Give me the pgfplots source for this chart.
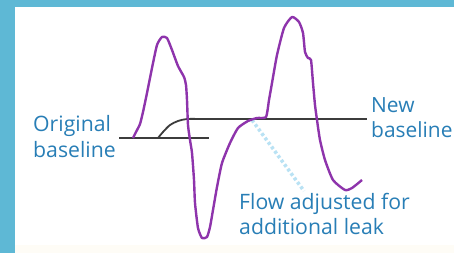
\documentclass[border=0pt]{standalone}
\usepackage{pgfplots}
\pgfplotsset{compat=1.18}
\usepackage{fontspec}
\setmainfont{Open Sans}
\definecolor{frameblue}{RGB}{94,184,213}
\definecolor{txtblue}{RGB}{40,126,182}
\definecolor{curve}{RGB}{142,52,172}
\definecolor{base}{RGB}{60,60,60}
\definecolor{leak}{RGB}{185,226,244}
\definecolor{cream}{RGB}{254,252,246}
\begin{document}
\begin{tikzpicture}
\begin{axis}[
  scale only axis, width=454bp, height=253bp,
  xmin=0, xmax=454, ymin=0, ymax=253, y dir=reverse,
  axis lines=none, clip=false,
]
\coordinate (sw) at (axis cs:0,253);
\coordinate (ne) at (axis cs:454,0);
\fill[frameblue] (axis cs:0,0) rectangle (axis cs:454,253);
\fill[white] (axis cs:15,7) rectangle (axis cs:454,253);
\fill[cream] (axis cs:15,245) rectangle (axis cs:454,253);
% original baseline
\addplot[base, line width=1.8bp] coordinates {(119,138) (209,138)};
% new baseline
\addplot[base, line width=1.8bp, smooth, tension=0.5] coordinates {(158,138) (163,132) (170,125) (178,121) (187,119) (200,119)};
\addplot[base, line width=1.8bp] coordinates {(198,119) (367,119)};
% leak line
\addplot[leak, line width=3.5bp, dash pattern=on 3bp off 2.5bp] coordinates {(252,120) (304,191)};
% flow curve
\addplot[curve, line width=2.4bp, smooth, tension=0.35, line join=round] coordinates {
(133,138) (136,132) (140,124) (143,112) (147,93) (152,68) (157,45) (162,37) (167,38)
(172,50) (178,66) (184,77) (186,85) (187,100) (188,125) (190,140) (192,153) (194,180)
(195,203) (198,228) (202,238) (207,237) (210,227) (213,210) (217,187) (222,163) (230,143)
(238,128) (248,121) (257,118) (266,117) (269,100) (272,83) (277,55) (284,28) (292,17)
(299,22) (303,33) (305,52) (308,58) (311,60) (313,83) (315,105) (317,120) (320,140)
(325,160) (333,180) (345,190) (352,188) (362,180)};
% labels
\node[anchor=base west, txtblue, font=\fontsize{21.3}{26}\selectfont, inner sep=0pt] at (axis cs:33,131) {Original};
\node[anchor=base west, txtblue, font=\fontsize{21.3}{26}\selectfont, inner sep=0pt] at (axis cs:33,157) {baseline};
\node[anchor=base west, txtblue, font=\fontsize{21}{26}\selectfont, inner sep=0pt] at (axis cs:371,112) {New};
\node[anchor=base west, txtblue, font=\fontsize{21}{26}\selectfont, inner sep=0pt] at (axis cs:371,137) {baseline};
\node[anchor=base west, txtblue, font=\fontsize{21.3}{26}\selectfont, inner sep=0pt] at (axis cs:239,209) {Flow adjusted for};
\node[anchor=base west, txtblue, font=\fontsize{21.3}{26}\selectfont, inner sep=0pt] at (axis cs:239,234) {additional leak};
\end{axis}
\pgfresetboundingbox
\useasboundingbox (sw) rectangle (ne);
\end{tikzpicture}
\end{document}
